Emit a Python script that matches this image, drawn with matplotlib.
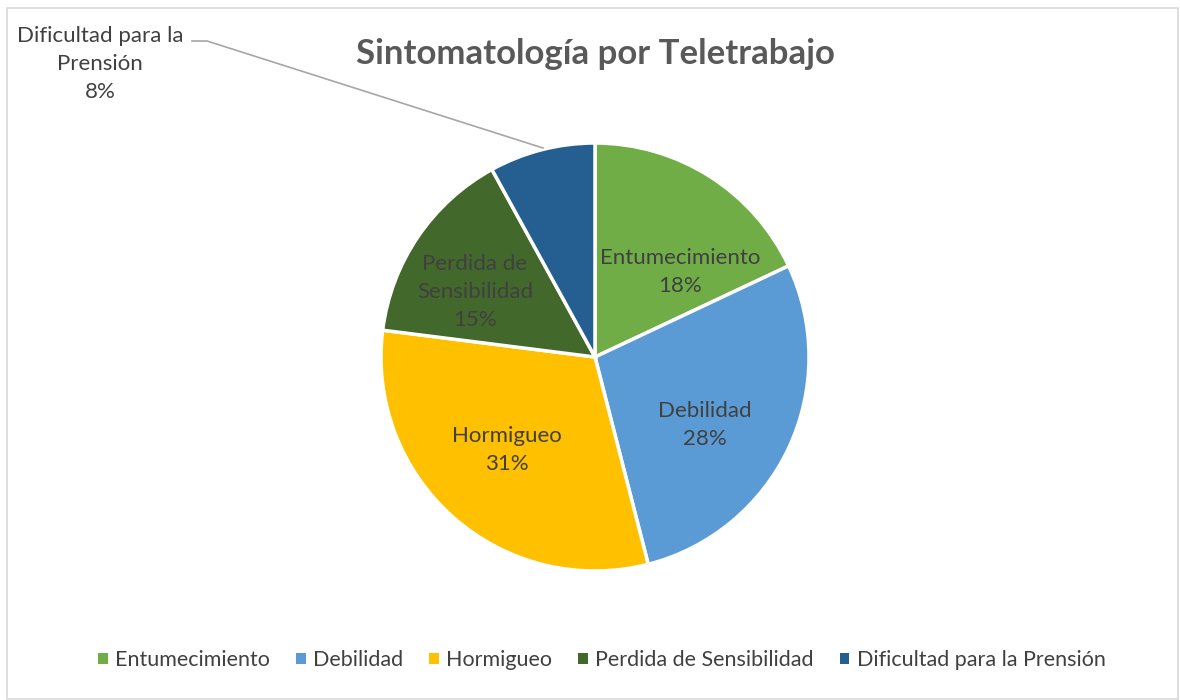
import matplotlib
matplotlib.use("Agg")
import matplotlib.pyplot as plt
from matplotlib.patches import Rectangle
from matplotlib.lines import Line2D
import numpy as np

categories = ["Entumecimiento", "Debilidad", "Hormigueo", "Perdida de Sensibilidad", "Dificultad para la Prensión"]
values = [18, 28, 31, 15, 8]
label_text = ["Entumecimiento", "Debilidad", "Hormigueo", "Perdida de\nSensibilidad", "Dificultad para la\nPrensión"]
colors = ["#70AD47", "#5B9BD5", "#FFC000", "#43682B", "#255E91"]
title = "Sintomatología por Teletrabajo"

FONT = ["Lato", "DejaVu Sans"]
TXT = "#404040"
W, H = 1180, 700
fig = plt.figure(figsize=(W/100, H/100), dpi=100)
fig.patch.set_facecolor("white")

# border
fig.add_artist(Rectangle((7/W, 1/H), (W-9)/W, (H-9)/H, transform=fig.transFigure,
                         fill=False, edgecolor="#D9D9D9", linewidth=1.2))

cx, cy, r = 595, 357, 214
ax = fig.add_axes([(cx-r)/W, (H-cy-r)/H, 2*r/W, 2*r/H])
wedges, _ = ax.pie(values, colors=colors, startangle=90, counterclock=False,
                   wedgeprops=dict(edgecolor="white", linewidth=2.5))
ax.set_xlim(-1, 1); ax.set_ylim(-1, 1)
ax.set_aspect("equal")
ax.axis("off")

# inside labels (pixel positions from reference converted to data coords)
inside_pos = [(680, 272), (705, 425), (507, 450), (475, 292)]
for i, (px, py) in enumerate(inside_pos):
    x = (px - cx) / r
    y = (cy - py) / r
    ax.text(x, y, f"{label_text[i]}\n{values[i]}%", ha="center", va="center",
            fontsize=16, color=TXT, family=FONT, linespacing=1.5)

# outside label for last slice
lx, ly = 100, 64
ax.text((lx-cx)/r, (cy-ly)/r, f"{label_text[4]}\n{values[4]}%", ha="center", va="center",
        fontsize=16, color=TXT, family=FONT, linespacing=1.5)
pts = [(192, 41), (207, 41), (543, 148)]
ax.add_line(Line2D([(p[0]-cx)/r for p in pts], [(cy-p[1])/r for p in pts],
                   color="#A6A6A6", linewidth=1.2, clip_on=False))

fig.text(595/W, 1-54/H, title, ha="center", va="center", fontsize=25,
         fontweight="bold", color="#595959", family=FONT)

handles = [Rectangle((0, 0), 1, 1, facecolor=c, edgecolor="none") for c in colors]
leg = fig.legend(handles, categories, loc="center", bbox_to_anchor=(602/W, 1-660/H),
                 ncol=5, frameon=False, handlelength=0.45, handleheight=0.45,
                 handletextpad=0.35, columnspacing=1.2,
                 prop=dict(family=FONT, size=15.5))
for t in leg.get_texts():
    t.set_color(TXT)

fig.savefig("out.png", dpi=100)
